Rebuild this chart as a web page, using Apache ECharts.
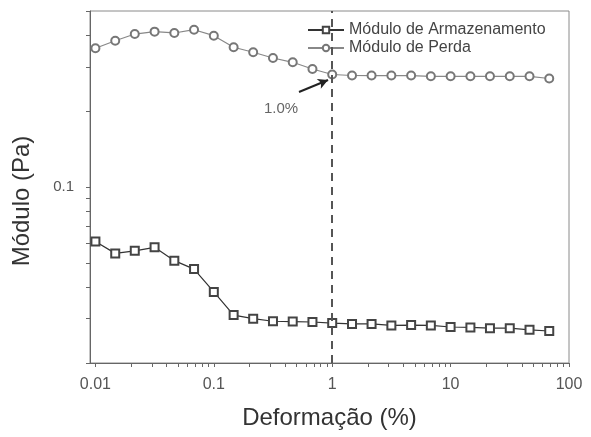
<!DOCTYPE html>
<html>
<head>
<meta charset="utf-8">
<script src="https://cdn.jsdelivr.net/npm/echarts@6/dist/echarts.min.js"></script>
<style>html,body{margin:0;padding:0;background:#fff;}#c{width:591px;height:437px;}</style>
</head>
<body>
<div id="c"></div>
<script>
const deformacao = [0.01, 0.0147, 0.0215, 0.0316, 0.0464, 0.0681, 0.1, 0.147, 0.215, 0.316, 0.464, 0.681,
  1, 1.47, 2.15, 3.16, 4.64, 6.81, 10, 14.7, 21.5, 31.6, 46.4, 68.1];
const armazenamento = [0.0607, 0.0545, 0.0558, 0.0576, 0.0510, 0.0472, 0.0383, 0.0310, 0.0300, 0.0293, 0.0292, 0.0291,
  0.0288, 0.0286, 0.0286, 0.0282, 0.0283, 0.0282, 0.0278, 0.0277, 0.0275, 0.0275, 0.0271, 0.0268];
const perda = [0.3555, 0.381, 0.405, 0.414, 0.409, 0.4214, 0.399, 0.3588, 0.3428, 0.3253, 0.3128, 0.2942,
  0.2798, 0.2772, 0.277, 0.277, 0.277, 0.2752, 0.2752, 0.2752, 0.2752, 0.2752, 0.2752, 0.2697];
const xTickLabels = [0.01, 0.1, 1, 10, 100];
const xTicks = [0.01,0.02,0.03,0.04,0.05,0.06,0.07,0.08,0.09,0.1,0.2,0.3,0.4,0.5,0.6,0.7,0.8,0.9,1,2,3,4,5,6,7,8,9,10,20,30,40,50,60,70,80,90,100];
const yTickLabels = [0.1];
const yTicks = [0.02,0.03,0.04,0.05,0.06,0.07,0.08,0.09,0.1,0.2,0.3,0.4,0.5];
const marcador = 1;
const setaInicio = [0.524, 0.2384];
const setaFim = [0.922, 0.266];

const FONT = 'Liberation Sans, Arial, sans-serif';
const chart = echarts.init(document.getElementById('c'), null, {renderer: 'canvas'});
chart.setOption({
  backgroundColor: '#fff',
  animation: false,
  grid: {left: 90, right: 22, top: 11, bottom: 74, show: true, borderColor: '#8a8a8a', borderWidth: 1, backgroundColor: 'transparent'},
  legend: {
    orient: 'vertical', left: 302, top: 17, itemGap: 2, itemWidth: 36, itemHeight: 8,
    textStyle: {fontFamily: FONT, fontSize: 16, color: '#444'},
    data: ['Módulo de Armazenamento', 'Módulo de Perda']
  },
  xAxis: {
    type: 'log', logBase: 10, min: 0.009, max: 100,
    name: 'Deformação (%)', nameLocation: 'middle', nameGap: 43,
    nameTextStyle: {fontFamily: FONT, fontSize: 24, color: '#333'},
    axisLine: {show: true, lineStyle: {color: '#666', width: 1}},
    axisTick: {show: true, length: 4, customValues: xTicks, lineStyle: {color: '#666'}},
    axisLabel: {customValues: xTickLabels, margin: 14, fontFamily: FONT, fontSize: 16, color: '#555',
      formatter: v => String(+v.toPrecision(3))},
    splitLine: {show: false}, minorTick: {show: false}
  },
  yAxis: {
    type: 'log', logBase: 10, min: 0.02, max: 0.5,
    name: 'Módulo (Pa)', nameLocation: 'middle', nameGap: 56,
    nameTextStyle: {fontFamily: FONT, fontSize: 24, color: '#333', padding: [0, 28, 0, 0]},
    axisLine: {show: true, lineStyle: {color: '#666', width: 1}},
    axisTick: {show: true, length: 4, customValues: yTicks, lineStyle: {color: '#666'}},
    axisLabel: {customValues: yTickLabels, margin: 16, fontFamily: FONT, fontSize: 15, color: '#555',
      formatter: v => String(+v.toPrecision(3))},
    splitLine: {show: false}, minorTick: {show: false}
  },
  graphic: [{
    type: 'text', left: 264, top: 101,
    style: {text: '1.0%', fontFamily: FONT, fontSize: 15, fill: '#666'}
  }],
  series: [
    {
      name: 'Módulo de Armazenamento', type: 'line',
      data: deformacao.map((x, i) => [x, armazenamento[i]]),
      symbol: 'emptyRect', symbolSize: 8,
      lineStyle: {color: '#333', width: 1.2},
      itemStyle: {color: '#444', borderWidth: 1.3},
      z: 3,
      markLine: {
        silent: true, symbol: ['none', 'none'], label: {show: false},
        lineStyle: {color: '#555', type: [8, 6], width: 2},
        data: [{xAxis: marcador}]
      }
    },
    {
      name: 'Módulo de Perda', type: 'line',
      data: deformacao.map((x, i) => [x, perda[i]]),
      symbol: 'emptyCircle', symbolSize: 8,
      lineStyle: {color: '#888', width: 1.2},
      itemStyle: {color: '#777', borderWidth: 1.3},
      z: 3,
      markLine: {
        silent: true, symbol: ['none', 'arrow'], symbolSize: [8, 10], label: {show: false},
        lineStyle: {color: '#222', type: 'solid', width: 2},
        data: [[{coord: setaInicio}, {coord: setaFim}]]
      }
    }
  ]
});
</script>
</body>
</html>
